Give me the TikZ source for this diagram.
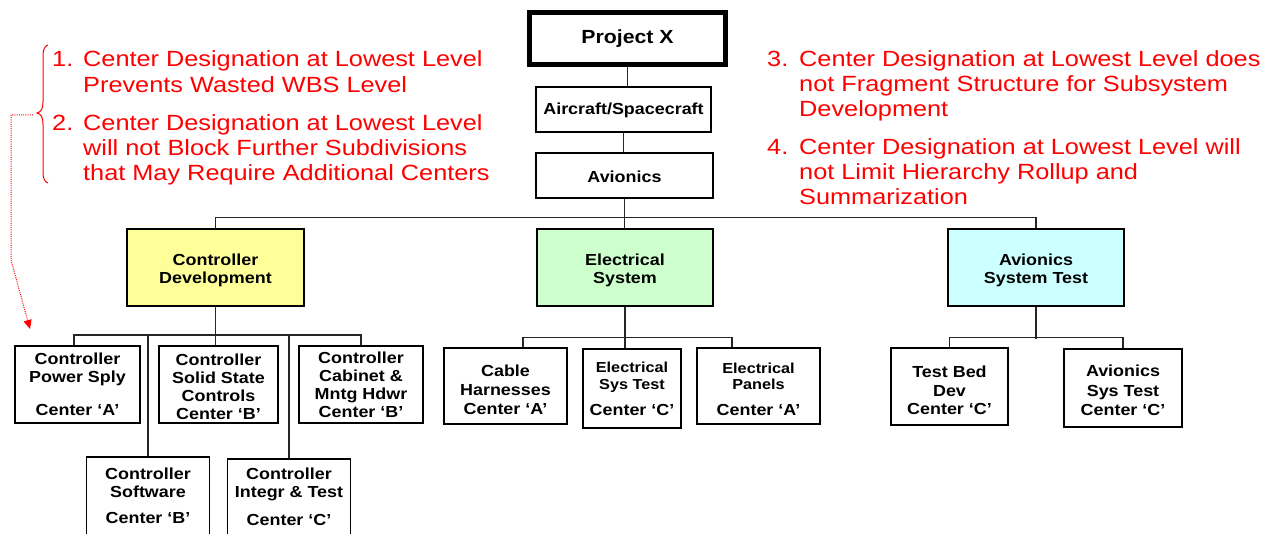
\documentclass[tikz,border=0pt]{standalone}
\usepackage{fontspec}
\setmainfont{Liberation Sans}[FakeStretch=1.12]
\newfontfamily\redfont{Liberation Sans}[FakeStretch=1.15]
\usetikzlibrary{arrows.meta}
\definecolor{boxyellow}{HTML}{FFFF99}
\definecolor{boxgreen}{HTML}{CCFFCC}
\definecolor{boxcyan}{HTML}{CCFFFF}
\definecolor{notered}{HTML}{FF0000}
\newcommand\toppad[1]{\rule{0pt}{#1pt}}
\newcommand\smallfs{\fontsize{14.5}{17}\selectfont}
\begin{document}
\begin{tikzpicture}[x=1pt,y=-1pt,
  box/.style={draw=black, line width=1.3pt, inner sep=0pt, align=center,
    font=\bfseries\fontsize{16}{18}\selectfont},
  wire/.style={line width=1.3pt, draw=black!85},
  note/.style={text=notered, anchor=base west, inner sep=0pt,
    font=\redfont\fontsize{22}{25}\selectfont}]
\fill[white] (0,0) rectangle (1282,534);
\useasboundingbox (0,0) rectangle (1282,534);

% top chain
\node[box, line width=5pt, minimum width=196, minimum height=52,
  font=\bfseries\fontsize{19}{22}\selectfont] (px) at (627.5,38.5) {Project X};
\node[box, minimum width=175, minimum height=45] (ac) at (623.5,109.5) {\toppad{14}Aircraft/Spacecraft};
\node[box, minimum width=177, minimum height=45] (av) at (624.5,175.5) {\toppad{14}Avionics};

% second level
\node[box, fill=boxyellow, minimum width=177, minimum height=77] (cd) at (215.5,267.5) {\toppad{18}Controller\\Development};
\node[box, fill=boxgreen, minimum width=176, minimum height=77] (es) at (625,267.5) {\toppad{18}Electrical\\System};
\node[box, fill=boxcyan, minimum width=176, minimum height=77] (ast) at (1036,267.5) {\toppad{18}Avionics\\System Test};

% controller children
\node[box, minimum width=125, minimum height=77] (c1) at (77.5,384.5) {Controller\\Power Sply\\[15pt]Center ‘A’};
\node[box, minimum width=119, minimum height=77] (c2) at (218.5,384.5) {\toppad{15.5}Controller\\Solid State\\Controls\\Center ‘B’};
\node[box, minimum width=124, minimum height=77] (c3) at (361,384.5) {Controller\\Cabinet \&\\Mntg Hdwr\\Center ‘B’};
\node[box, minimum width=123, minimum height=78] (c4) at (148,496) {Controller\\Software\\[8pt]Center ‘B’};
\node[box, minimum width=123, minimum height=76] (c5) at (289,497) {Controller\\Integr \& Test\\[10pt]Center ‘C’};

% electrical children
\node[box, minimum width=123, minimum height=76, font=\bfseries\fontsize{16}{19}\selectfont] (e1) at (505.5,386) {\toppad{20}Cable\\Harnesses\\Center ‘A’};
\node[box, minimum width=98, minimum height=79] (e2) at (632,388.5) {{\smallfs Electrical}\\[-1pt]{\smallfs Sys Test}\\[8pt]Center ‘C’};
\node[box, minimum width=123, minimum height=76] (e3) at (758.5,386) {{\smallfs\toppad{18}Electrical}\\[-2pt]{\smallfs Panels}\\[8pt]Center ‘A’};

% avionics test children
\node[box, minimum width=117, minimum height=77, font=\bfseries\fontsize{16}{18.5}\selectfont] (a1) at (949.5,386.5) {\toppad{20}Test Bed\\Dev\\Center ‘C’};
\node[box, minimum width=118, minimum height=78, font=\bfseries\fontsize{16}{19.5}\selectfont] (a2) at (1123,388) {\toppad{17}Avionics\\Sys Test\\Center ‘C’};

% connectors
\draw[wire] (px.south) -- (px.south |- ac.north);
\draw[wire] (ac.south) -- (ac.south |- av.north);
\draw[wire] (av.south) -- (av.south |- es.north);
\draw[wire] (cd.north) -- ++(0,-11) -| (ast.north);

\coordinate (cdbus) at (0,335);
\draw[wire] (cd.south) -- (cd.south |- c2.north);
\draw[wire] ([xshift=-3.5pt]c1.north) |- (cdbus -| c3.north) -- (c3.north);
\draw[wire] (c4.north) -- (c4.north |- cdbus);
\draw[wire] (c5.north) -- (c5.north |- cdbus);

\draw[wire] (es.south) -- (es.south |- e2.north);
\draw[wire] ([xshift=17.5pt]e1.north) -- ++(0,-10) -| ([xshift=-26.5pt]e3.north);

\draw[wire] (ast.south) -- ++(0,32);
\draw[wire] (a1.north) -- ++(0,-10) -| (a2.north);

% notes
\node[note] (n1) at (52,67) {1.};
\node[note] (n1a) at (83,67) {Center Designation at Lowest Level};
\node[note] (n1b) at (83,93) {Prevents Wasted WBS Level};
\node[note] (n2) at (52,131) {2.};
\node[note] (n2a) at (83,131) {Center Designation at Lowest Level};
\node[note] (n2b) at (83,156) {will not Block Further Subdivisions};
\node[note] (n2c) at (83,181) {that May Require Additional Centers};

\node[note] (n3) at (767,67) {3.};
\node[note] (n3a) at (799,67) {Center Designation at Lowest Level does};
\node[note] (n3b) at (799,92) {not Fragment Structure for Subsystem};
\node[note] (n3c) at (799,117) {Development};
\node[note] (n4) at (767,155) {4.};
\node[note] (n4a) at (799,155) {Center Designation at Lowest Level will};
\node[note] (n4b) at (799,180) {not Limit Hierarchy Rollup and};
\node[note] (n4c) at (799,205) {Summarization};

% brace
\draw[notered, line width=1pt]
  (48,45) .. controls (44.5,46) and (43,50) .. (43,56) -- (43,102)
  .. controls (43,109) and (41,112) .. (37,113)
  .. controls (41,114) and (43,117) .. (43,124) -- (43,172)
  .. controls (43,178) and (44.5,182) .. (48,183);

% dotted pointer
\coordinate (ds) at (33,115);
\coordinate (dc1) at (11,115);
\coordinate (dc2) at (11,260);
\coordinate (de) at (30,329);
\draw[notered, line width=1pt, dash pattern=on 1pt off 1.2pt, -{Triangle[length=9pt,width=8pt]}]
  (ds) -- (dc1) -- (dc2) -- (de);
\end{tikzpicture}
\end{document}
